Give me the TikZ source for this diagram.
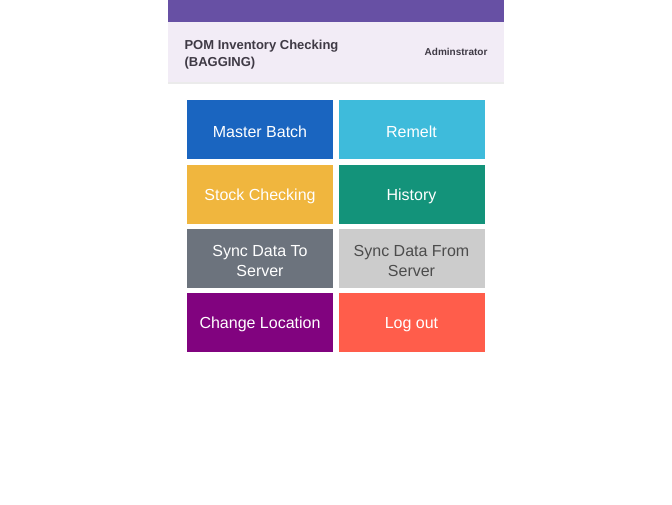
\documentclass[tikz,border=0pt]{standalone}
\usepackage{fontspec}
\setmainfont{Liberation Sans}
\definecolor{topbar}{HTML}{6750A4}
\definecolor{hdr}{HTML}{F2ECF6}
\definecolor{hdrtxt}{HTML}{3F3A45}
\definecolor{cA}{HTML}{1A65C0}
\definecolor{cB}{HTML}{3EBBDB}
\definecolor{cC}{HTML}{F0B63E}
\definecolor{cD}{HTML}{13937A}
\definecolor{cE}{HTML}{6C737D}
\definecolor{cF}{HTML}{CCCCCC}
\definecolor{cG}{HTML}{81037F}
\definecolor{cH}{HTML}{FF5D4B}
\tikzset{
 btn/.style={minimum width=146pt,minimum height=59pt,inner sep=0pt,text=white,align=center,
   font=\fontsize{16}{20}\selectfont},
 lbl/.style={text=white,align=center,font=\fontsize{16}{20}\selectfont},
}
\begin{document}
\begin{tikzpicture}[x=1pt,y=-1pt]
\useasboundingbox (0,0) rectangle (672,504);
\fill[white] (0,0) rectangle (672,504);
\fill[hdr] (168,22) rectangle (504,82);
\fill[black!8] (168,82) rectangle (504,84);
\fill[topbar] (168,0) rectangle (504,22);
\node[anchor=west,align=left,text=hdrtxt,font=\bfseries\fontsize{13}{17}\selectfont] (title) at (181,55) {POM Inventory Checking\\(BAGGING)};
\node[anchor=east,text=hdrtxt,font=\bfseries\fontsize{10}{12}\selectfont] (user) at (491,52) {Adminstrator};
\node[btn,fill=cA] (b1) at (260,129.5) {};
\node[btn,fill=cB] (b2) at (411.5,129.5) {};
\node[btn,fill=cC] (b3) at (260,194) {};
\node[btn,fill=cD] (b4) at (411.5,194) {};
\node[btn,fill=cE] (b5) at (260,258.5) {};
\node[btn,fill=cF] (b6) at (411.5,258.5) {};
\node[btn,fill=cG] (b7) at (260,322.5) {};
\node[btn,fill=cH] (b8) at (411.5,322.5) {};
\node[lbl] at ([yshift=-2pt]b1.center) {Master Batch};
\node[lbl] at ([yshift=-2pt]b2.center) {Remelt};
\node[lbl] at ([yshift=-2pt]b3.center) {Stock Checking};
\node[lbl] at ([yshift=-2pt]b4.center) {History};
\node[lbl] at ([yshift=-2pt]b5.center) {Sync Data To\\Server};
\node[lbl,text=black!70] at ([yshift=-2pt]b6.center) {Sync Data From\\Server};
\node[lbl] at ([yshift=-2pt]b7.center) {Change Location};
\node[lbl] at ([yshift=-2pt]b8.center) {Log out};
\end{tikzpicture}
\end{document}
